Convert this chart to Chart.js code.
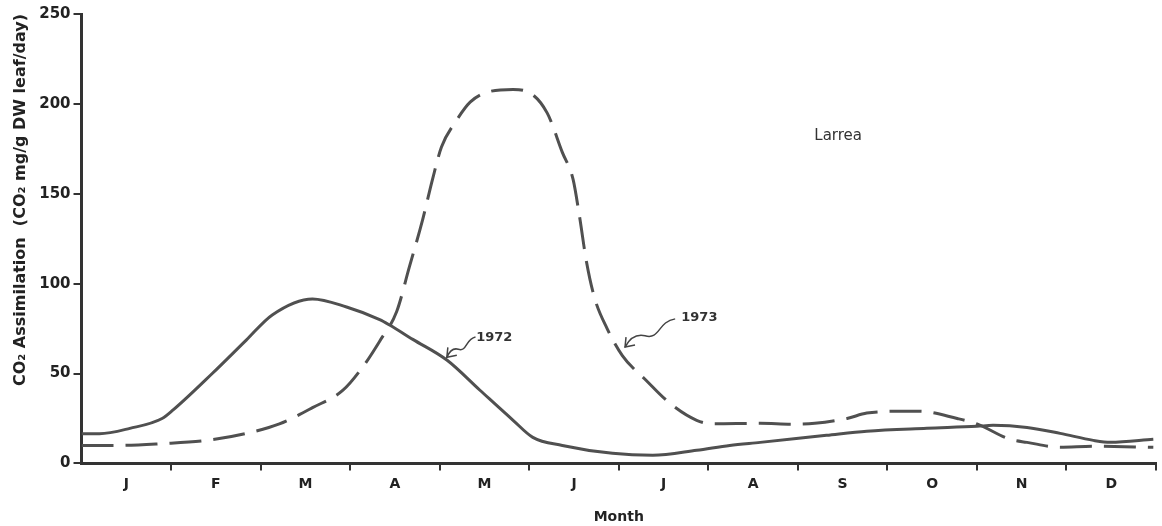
<!DOCTYPE html>
<html>
<head>
<meta charset="utf-8">
<title>Larrea CO2 assimilation</title>
<script src="https://cdn.jsdelivr.net/npm/chart.js@4.4.1/dist/chart.umd.min.js"></script>
<style>
    body { margin: 0; background: #fff; }
    #wrap { width: 1162px; height: 526px; }
</style>
</head>
<body>
<div id="wrap"><canvas id="chart" width="1162" height="526"></canvas></div>
<script>
// month labels (ticks sit between them)
const monthLabels = ['J', 'F', 'M', 'A', 'M', 'J', 'J', 'A', 'S', 'O', 'N', 'D'];
const yTicks = [0, 50, 100, 150, 200, 250];

// 1972 (solid) - x is months from 1 Jan
const months1972 = [0, 0.2, 0.54, 0.9, 1.02, 1.46, 1.84, 2.13, 2.58, 2.96, 3.33, 3.44, 3.7, 4.08, 4.45, 4.82, 5.04, 5.37, 5.93, 6.38, 6.87, 7.24, 7.58, 8.32, 8.77, 9.44, 10.0, 10.18, 10.56, 10.93, 11.3, 11.49, 11.97];
const values1972 = [16.5, 16.5, 19.5, 25, 29.6, 50, 68.6, 82.6, 91.5, 87, 80, 77, 69, 57.5, 40.7, 24, 14.5, 10, 5.6, 4.5, 7.3, 10, 11.7, 15.6, 17.9, 19.5, 20.6, 21.2, 20, 16.7, 12.8, 11.7, 13.4];

// 1973 (dashed)
const months1973 = [0, 0.42, 0.9, 1.4, 1.84, 2.21, 2.58, 2.92, 3.14, 3.33, 3.52, 3.66, 3.81, 3.92, 4.02, 4.19, 4.34, 4.53, 4.82, 4.97, 5.2, 5.37, 5.49, 5.56, 5.64, 5.73, 5.87, 6.04, 6.31, 6.57, 6.87, 7.05, 7.58, 7.94, 8.19, 8.55, 8.77, 9.17, 9.36, 9.78, 10.0, 10.37, 10.56, 10.93, 11.3, 11.97];
const values1973 = [10, 10, 11, 12.8, 16.7, 22, 31, 40.7, 53.6, 68, 84.5, 109, 135.6, 158, 176, 191, 201, 206.5, 208, 207, 195, 173, 158, 138, 112, 92, 75, 60, 46, 33.5, 24, 22, 22.3, 21.8, 22.3, 25, 28, 29, 29, 25, 22, 13.4, 11.7, 9, 9.5, 9];

const lineColor = '#505050';
const axisColor = '#333';
const fontFamily = '"DejaVu Sans", sans-serif';

function toPoints(xs, ys) {
    return xs.map((x, i) => ({ x: x, y: ys[i] }));
}

// labels + squiggly arrows, placed in data units
const notes = {
    id: 'notes',
    afterDatasetsDraw(chart) {
        const ctx = chart.ctx;
        const sx = chart.scales.x;
        const sy = chart.scales.y;
        const px = (m) => sx.getPixelForValue(m);
        const py = (v) => sy.getPixelForValue(v);

        ctx.save();
        ctx.fillStyle = '#333';
        ctx.textAlign = 'center';
        ctx.textBaseline = 'middle';
        ctx.font = '15px ' + fontFamily;
        ctx.fillText('Larrea', px(8.45), py(182));

        ctx.font = 'bold 13px ' + fontFamily;
        ctx.fillText('1972', px(4.61), py(69.8));
        ctx.fillText('1973', px(6.9), py(81));

        drawArrow(ctx, px(4.4), py(70.3), px(4.08), py(59));
        drawArrow(ctx, px(6.63), py(80.4), px(6.07), py(64.7));
        ctx.restore();
    }
};

function drawArrow(ctx, x1, y1, x2, y2) {
    const dx = x2 - x1;
    const dy = y2 - y1;
    ctx.strokeStyle = '#444';
    ctx.lineWidth = 1.5;
    ctx.beginPath();
    ctx.moveTo(x1, y1);
    ctx.bezierCurveTo(x1 + dx * 0.35, y1 + dy * 0.1, x1 + dx * 0.3, y1 + dy * 0.75, x1 + dx * 0.6, y1 + dy * 0.6);
    ctx.quadraticCurveTo(x1 + dx * 0.85, y1 + dy * 0.5, x2, y2);
    ctx.stroke();
    // head
    ctx.beginPath();
    ctx.moveTo(x2 + 1, y2 - 10);
    ctx.lineTo(x2, y2);
    ctx.lineTo(x2 + 10, y2 - 2);
    ctx.stroke();
}

function drawChart() {
    const ctx = document.getElementById('chart').getContext('2d');
    new Chart(ctx, {
        type: 'line',
        data: {
            datasets: [
                {
                    label: '1972',
                    data: toPoints(months1972, values1972),
                    borderColor: lineColor,
                    borderWidth: 3,
                    pointRadius: 0,
                    cubicInterpolationMode: 'monotone',
                    fill: false
                },
                {
                    label: '1973',
                    data: toPoints(months1973, values1973),
                    borderColor: lineColor,
                    borderWidth: 3,
                    borderDash: [32, 12],
                    pointRadius: 0,
                    cubicInterpolationMode: 'monotone',
                    fill: false
                }
            ]
        },
        options: {
            responsive: false,
            animation: false,
            devicePixelRatio: 1,
            layout: { padding: { left: 11, right: 6, top: 14, bottom: 0 } },
            plugins: {
                legend: { display: false },
                tooltip: { enabled: false }
            },
            scales: {
                x: {
                    type: 'linear',
                    min: 0,
                    max: 12,
                    border: { display: true, color: axisColor, width: 3 },
                    grid: {
                        drawOnChartArea: false,
                        tickLength: 7,
                        lineWidth: 2,
                        tickColor: (c) => (c.tick && c.tick.value % 1 === 0 && c.tick.value > 0) ? axisColor : 'rgba(0,0,0,0)'
                    },
                    ticks: {
                        stepSize: 0.5,
                        maxTicksLimit: 30,
                        autoSkip: false,
                        maxRotation: 0,
                        padding: 6,
                        color: '#222',
                        font: { family: fontFamily, size: 14, weight: 'bold' },
                        callback: (v) => (v % 1 !== 0) ? monthLabels[Math.floor(v)] : ''
                    },
                    title: {
                        display: true,
                        text: 'Month',
                        color: '#222',
                        font: { family: fontFamily, size: 14, weight: 'bold' },
                        padding: { top: 10, bottom: 0 }
                    }
                },
                y: {
                    min: 0,
                    max: 250,
                    afterBuildTicks: (axis) => { axis.ticks = yTicks.map(v => ({ value: v })); },
                    border: { display: true, color: axisColor, width: 3 },
                    grid: {
                        drawOnChartArea: false,
                        tickLength: 8,
                        lineWidth: 2,
                        tickColor: axisColor
                    },
                    ticks: {
                        padding: 3,
                        color: '#222',
                        font: { family: fontFamily, size: 15, weight: 'bold' }
                    },
                    title: {
                        display: true,
                        text: 'CO\u2082 Assimilation  (CO\u2082 mg/g DW leaf/day)',
                        align: 'end',
                        color: '#222',
                        font: { family: fontFamily, size: 16, weight: 'bold' },
                        padding: { top: 0, bottom: 6 }
                    }
                }
            }
        },
        plugins: [notes]
    });
}

window.onload = function () {
    drawChart();
}
</script>
</body>
</html>
